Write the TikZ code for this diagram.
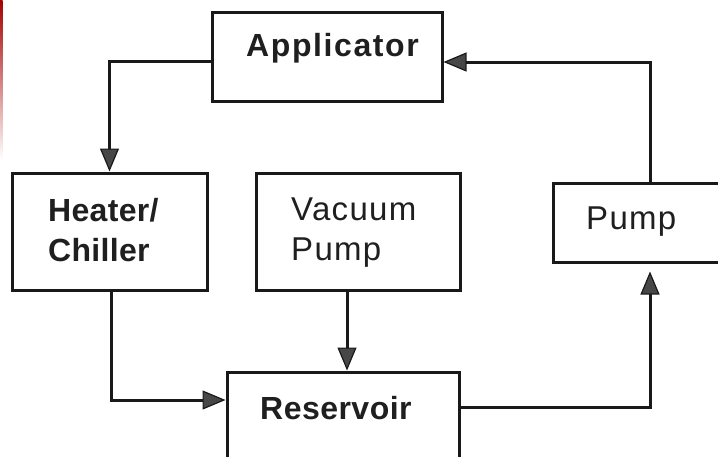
\documentclass[tikz,border=0pt]{standalone}
\usepackage{fontspec}
\setmainfont{Liberation Sans}
\usetikzlibrary{arrows.meta}
\begin{document}
\begin{tikzpicture}[x=1pt,y=-1pt,
  box/.style={draw=black!90, line width=3pt, minimum width=#1, inner sep=0pt},
  lbl/.style={anchor=west, inner sep=0pt, align=left, text=black!88,
    font=\fontsize{32}{40}\selectfont\bfseries\addfontfeatures{LetterSpace=#1}},
  lblr/.style={anchor=west, inner sep=0pt, align=left, text=black!88,
    font=\fontsize{33}{40}\selectfont\addfontfeatures{LetterSpace=4}},
  arr/.style={draw=black!90, line width=3pt,
    -{Triangle[length=23pt,width=19pt,line width=1.2pt,fill=black!72]}}]
\clip (0,0) rectangle (718,456);
\fill[white] (0,0) rectangle (718,456);
\shade[top color=red!65!black, bottom color=white] (0,0) rectangle (2.5,160);
% boxes
\node[box=230pt, minimum height=89pt]  (app)  at (327,56.5) {};
\node[box=195pt, minimum height=117pt] (heat) at (109.5,231.5) {};
\node[box=204pt, minimum height=117pt] (vac)  at (358,231.5) {};
\node[box=217pt, minimum height=79pt]  (pump) at (661.5,222.5) {};
\node[box=232pt, minimum height=128pt] (res)  at (343,436) {};
% labels
\node[lbl=5]  (tapp)  at (246,48)  {Applicator};
\node[lbl=1]  (theat) at (48,230)  {Heater/\\Chiller};
\node[lblr]   (tvac)  at (291,233) {Vacuum\\Pump};
\node[lblr]   (tpump) at (586,222) {Pump};
\node[lbl=1.5](tres)  at (260,408) {Reservoir};
% helper coordinates
\coordinate (ya) at (0,61);
\coordinate (yh) at (0,400);
\coordinate (xh) at (111,0);
\coordinate (xv) at (347,0);
\coordinate (yr) at (0,407);
\coordinate (xp) at (650,0);
\coordinate (yp) at (0,62);
% connectors
\draw[arr] (app.west |- ya) -| (heat.north);
\draw[arr] (heat.south -| xh) |- (res.west |- yh);
\draw[arr] (vac.south -| xv) -- (res.north -| xv);
\draw[arr, shorten >=8pt] (res.east |- yr) -| (pump.south -| xp);
\draw[arr] (pump.north -| xp) |- (app.east |- yp);
\end{tikzpicture}
\end{document}
